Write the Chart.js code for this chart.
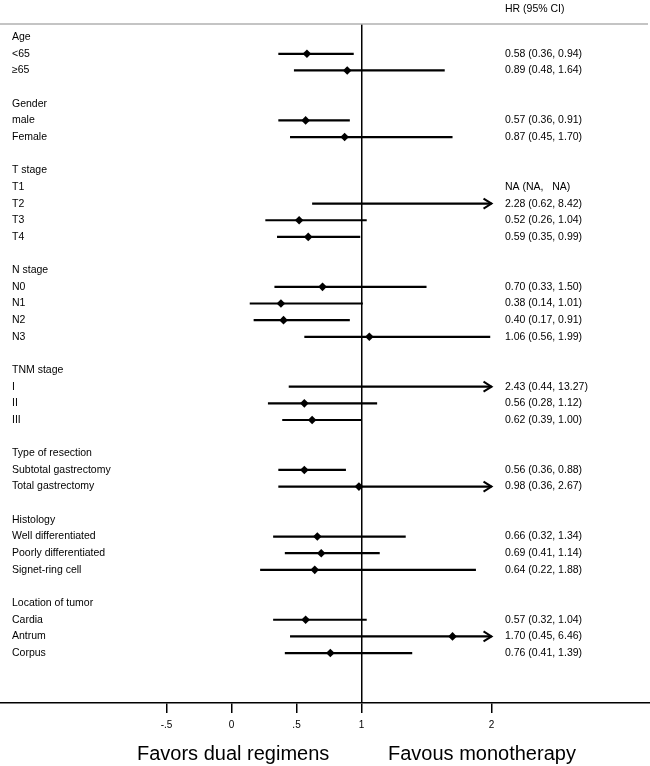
<!DOCTYPE html>
<html>
<head>
<meta charset="utf-8">
<script src="https://cdn.jsdelivr.net/npm/chart.js@4/dist/chart.umd.min.js"></script>
<style>
  html, body { margin: 0; padding: 0; background: #fff; overflow: hidden; }
  #wrap { width: 650px; height: 766px; position: relative; }
</style>
</head>
<body>
<div id="wrap"><canvas id="c"></canvas></div>
<script>
// ---- Data ----
const rowLabels = [
  "Age", "<65", "≥65", "",
  "Gender", "male", "Female", "",
  "T stage", "T1", "T2", "T3", "T4", "",
  "N stage", "N0", "N1", "N2", "N3", "",
  "TNM stage", "I", "II", "III", "",
  "Type of resection", "Subtotal gastrectomy", "Total gastrectomy", "",
  "Histology", "Well differentiated", "Poorly differentiated", "Signet-ring cell", "",
  "Location of tumor", "Cardia", "Antrum", "Corpus"
];
const hrValues = [
  null, 0.58, 0.89, null,
  null, 0.57, 0.87, null,
  null, null, 2.28, 0.52, 0.59, null,
  null, 0.70, 0.38, 0.40, 1.06, null,
  null, 2.43, 0.56, 0.62, null,
  null, 0.56, 0.98, null,
  null, 0.66, 0.69, 0.64, null,
  null, 0.57, 1.70, 0.76
];
const ciLower = [
  null, 0.36, 0.48, null,
  null, 0.36, 0.45, null,
  null, null, 0.62, 0.26, 0.35, null,
  null, 0.33, 0.14, 0.17, 0.56, null,
  null, 0.44, 0.28, 0.39, null,
  null, 0.36, 0.36, null,
  null, 0.32, 0.41, 0.22, null,
  null, 0.32, 0.45, 0.41
];
const ciUpper = [
  null, 0.94, 1.64, null,
  null, 0.91, 1.70, null,
  null, null, 8.42, 1.04, 0.99, null,
  null, 1.50, 1.01, 0.91, 1.99, null,
  null, 13.27, 1.12, 1.00, null,
  null, 0.88, 2.67, null,
  null, 1.34, 1.14, 1.88, null,
  null, 1.04, 6.46, 1.39
];
const hrLabels = [
  "", "0.58 (0.36, 0.94)", "0.89 (0.48, 1.64)", "",
  "", "0.57 (0.36, 0.91)", "0.87 (0.45, 1.70)", "",
  "", "NA (NA,   NA)", "2.28 (0.62, 8.42)", "0.52 (0.26, 1.04)", "0.59 (0.35, 0.99)", "",
  "", "0.70 (0.33, 1.50)", "0.38 (0.14, 1.01)", "0.40 (0.17, 0.91)", "1.06 (0.56, 1.99)", "",
  "", "2.43 (0.44, 13.27)", "0.56 (0.28, 1.12)", "0.62 (0.39, 1.00)", "",
  "", "0.56 (0.36, 0.88)", "0.98 (0.36, 2.67)", "",
  "", "0.66 (0.32, 1.34)", "0.69 (0.41, 1.14)", "0.64 (0.22, 1.88)", "",
  "", "0.57 (0.32, 1.04)", "1.70 (0.45, 6.46)", "0.76 (0.41, 1.39)"
];
const xTicks = [-0.5, 0, 0.5, 1, 2];
const xTickLabels = ["-.5", "0", ".5", "1", "2"];
const xClip = 2;            // CIs beyond this value end in an arrow
const headerText = "HR (95% CI)";
const leftCaption = "Favors dual regimens";
const rightCaption = "Favous monotherapy";

// ---- Build datasets from the arrays ----
const ciLine = [];
const points = [];
rowLabels.forEach((_, i) => {
  if (ciLower[i] !== null) {
    ciLine.push({ x: ciLower[i], y: i });
    ciLine.push({ x: Math.min(ciUpper[i], xClip), y: i });
    ciLine.push({ x: null, y: null });
  }
  if (hrValues[i] !== null && hrValues[i] <= xClip) {
    points.push({ x: hrValues[i], y: i });
  }
});

const FONT = '"Liberation Sans", Arial, sans-serif';

const forestText = {
  id: 'forestText',
  afterDraw(chart) {
    const { ctx, chartArea, scales } = chart;
    const xs = scales.x, ys = scales.y;
    ctx.save();
    // top rule
    ctx.strokeStyle = '#b0b0b0';
    ctx.lineWidth = 1.5;
    ctx.beginPath();
    ctx.moveTo(0, chartArea.top);
    ctx.lineTo(chart.width - 2, chartArea.top);
    ctx.stroke();

    // arrowheads for clipped CIs
    ctx.strokeStyle = '#000';
    ctx.lineWidth = 2;
    rowLabels.forEach((_, i) => {
      if (ciUpper[i] !== null && ciUpper[i] > xClip) {
        const px = xs.getPixelForValue(xClip);
        const py = ys.getPixelForValue(i);
        ctx.beginPath();
        ctx.moveTo(px - 8, py - 5);
        ctx.lineTo(px, py);
        ctx.lineTo(px - 8, py + 5);
        ctx.stroke();
      }
    });

    // text
    ctx.fillStyle = '#000';
    ctx.textBaseline = 'middle';
    ctx.textAlign = 'left';
    ctx.font = '10.5px ' + FONT;
    ctx.fillText(headerText, 505, 9);
    rowLabels.forEach((lab, i) => {
      const py = ys.getPixelForValue(i);
      if (lab) ctx.fillText(lab, 12, py);
      if (hrLabels[i]) ctx.fillText(hrLabels[i], 505, py);
    });
    ctx.font = '20px ' + FONT;
    ctx.fillText(leftCaption, 137, 754);
    ctx.fillText(rightCaption, 388, 754);
    ctx.restore();
  }
};

new Chart(document.getElementById('c'), {
  type: 'line',
  data: {
    datasets: [
      {
        type: 'line',
        data: ciLine,
        borderColor: '#000',
        borderWidth: 2.2,
        borderCapStyle: 'butt',
        pointRadius: 0,
        spanGaps: false,
        fill: false,
        order: 2
      },
      {
        type: 'scatter',
        data: points,
        pointStyle: 'rectRot',
        pointRadius: 4.3,
        pointBackgroundColor: '#000',
        pointBorderColor: '#000',
        pointBorderWidth: 0,
        order: 1
      }
    ]
  },
  options: {
    responsive: true,
    maintainAspectRatio: false,
    animation: false,
    events: [],
    layout: { autoPadding: false, padding: { top: 24, bottom: 29, left: 0, right: 0 } },
    plugins: { legend: { display: false }, tooltip: { enabled: false } },
    scales: {
      x: {
        type: 'linear',
        position: 'bottom',
        min: -1.781,
        max: 3.219,
        afterBuildTicks: (scale) => { scale.ticks = xTicks.map(v => ({ value: v })); },
        afterFit: (scale) => { scale.paddingLeft = 0; scale.paddingRight = 0; },
        ticks: {
          autoSkip: false,
          maxRotation: 0,
          padding: 6,
          color: '#000',
          font: { family: FONT, size: 10 },
          callback: (value, index) => xTickLabels[index]
        },
        grid: {
          drawOnChartArea: true,
          tickLength: 10,
          lineWidth: 1.5,
          color: (c) => (c.tick && c.tick.value === 1) ? '#000' : 'rgba(0,0,0,0)',
          tickColor: '#000',
          tickWidth: 1.5
        },
        border: { display: true, color: '#000', width: 1.5 }
      },
      y: {
        type: 'linear',
        display: false,
        reverse: true,
        min: -0.79,
        max: 40
      }
    }
  },
  plugins: [forestText]
});
</script>
</body>
</html>
